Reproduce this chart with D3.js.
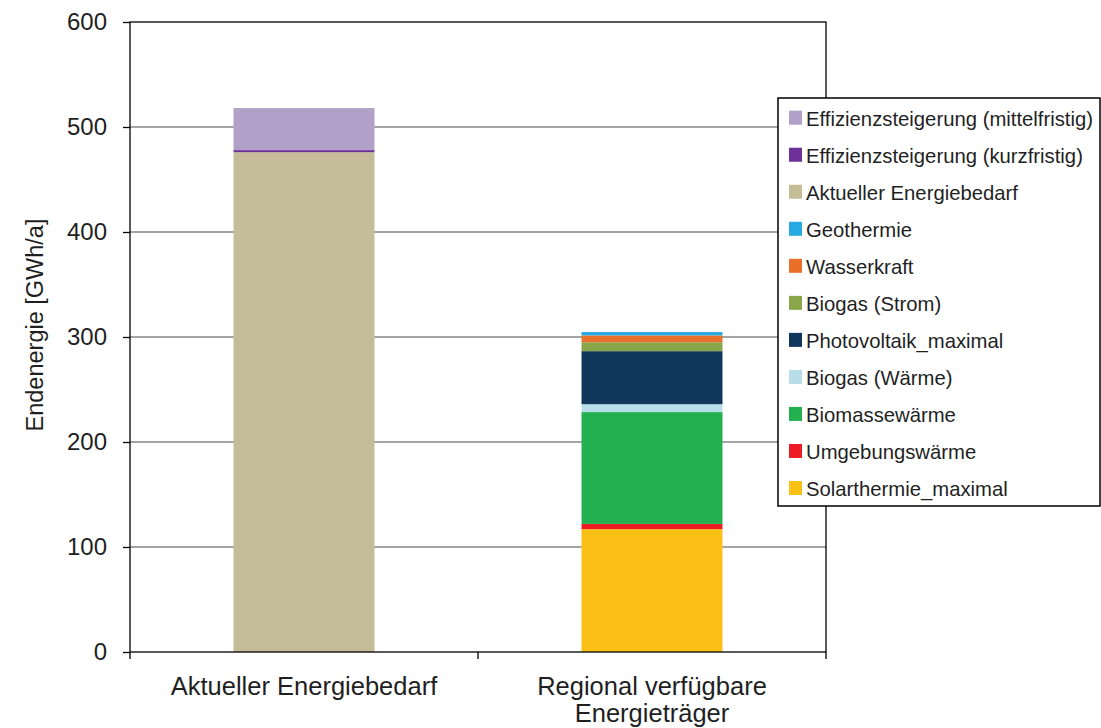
<!DOCTYPE html>
<html><head><meta charset="utf-8">
<script src="https://cdn.jsdelivr.net/npm/d3@7"></script>
<style>body{margin:0;background:#fff;}svg{font-family:"Liberation Sans",Arial,sans-serif;}</style>
</head><body><svg id="c" width="1101" height="728"></svg>
<script>
const categories = ["Aktueller Energiebedarf", "Regional verfügbare Energieträger"];
const categoryLines = [["Aktueller Energiebedarf"], ["Regional verfügbare", "Energieträger"]];
// series in stacking order (bottom to top)
const seriesNames = ["Solarthermie_maximal","Umgebungswärme","Biomassewärme","Biogas (Wärme)","Photovoltaik_maximal","Biogas (Strom)","Wasserkraft","Geothermie","Aktueller Energiebedarf","Effizienzsteigerung (kurzfristig)","Effizienzsteigerung (mittelfristig)"];
const seriesColors = ["#fbc016","#ed1c24","#23b04f","#b7dde8","#10365c","#8aa64b","#e8702a","#27aae1","#c4bd97","#6f3198","#b1a0c7"];
// values per series: [Aktueller Energiebedarf, Regional verfügbare Energieträger]
const solarthermie = [0, 117];
const umgebung = [0, 5];
const biomasse = [0, 106.5];
const biogasWaerme = [0, 7.5];
const photovoltaik = [0, 50.5];
const biogasStrom = [0, 8.5];
const wasserkraft = [0, 6.5];
const geothermie = [0, 3.2];
const aktuell = [476, 0];
const effKurz = [2, 0];
const effMittel = [40, 0];
const yTicks = [0, 100, 200, 300, 400, 500, 600];

const seriesValues = [solarthermie, umgebung, biomasse, biogasWaerme, photovoltaik, biogasStrom, wasserkraft, geothermie, aktuell, effKurz, effMittel];

const svg = d3.select("#c");
const TXT = "#1f1f1f";
const L = 130, R = 826, T = 22, B = 652;
const x = d3.scaleBand().domain(categories).range([L, R]).paddingInner(0.595).paddingOuter(0.2975);
const y = d3.scaleLinear().domain([0, 600]).range([B, T]);

// gridlines
svg.append("g").selectAll("line").data(yTicks.filter(d => d > 0 && d < 600)).join("line")
  .attr("x1", L).attr("x2", R).attr("y1", d => y(d)).attr("y2", d => y(d))
  .attr("stroke", "#868686").attr("stroke-width", 1.3);

// stacked data
const rows = categories.map((c, i) => {
  const o = {cat: c};
  seriesNames.forEach((s, j) => o[s] = seriesValues[j][i]);
  return o;
});
const stack = d3.stack().keys(seriesNames)(rows);
svg.append("g").selectAll("g").data(stack).join("g")
  .attr("fill", (d, i) => seriesColors[i])
  .selectAll("rect").data(d => d).join("rect")
  .attr("x", d => x(d.data.cat)).attr("width", x.bandwidth())
  .attr("y", d => y(d[1])).attr("height", d => Math.max(0, y(d[0]) - y(d[1])));

// frame
svg.append("rect").attr("x", L).attr("y", T).attr("width", R - L).attr("height", B - T)
  .attr("fill", "none").attr("stroke", "#000").attr("stroke-width", 1.3);

// y axis
const yAxis = svg.append("g").attr("transform", `translate(${L},0)`)
  .call(d3.axisLeft(y).tickValues(yTicks).tickSize(7).tickPadding(16).tickFormat(d3.format("d")));
yAxis.select(".domain").remove();
yAxis.selectAll("line").attr("stroke", "#000").attr("stroke-width", 1.3);
yAxis.selectAll("text").attr("font-size", 24).attr("fill", TXT).attr("font-family", "Liberation Sans, Arial, sans-serif");

// x axis ticks at category boundaries
const bounds = [L, (L + R) / 2, R];
svg.append("g").selectAll("line").data(bounds).join("line")
  .attr("x1", d => d).attr("x2", d => d).attr("y1", B).attr("y2", B + 7)
  .attr("stroke", "#000").attr("stroke-width", 1.3);

// category labels
const catG = svg.append("g");
categories.forEach((c, i) => {
  const cx = x(c) + x.bandwidth() / 2;
  const t = catG.append("text").attr("x", cx).attr("y", 695)
    .attr("text-anchor", "middle").attr("font-size", 25.5).attr("fill", TXT);
  categoryLines[i].forEach((ln, k) => t.append("tspan").attr("x", cx).attr("dy", k === 0 ? 0 : 27).text(ln));
});

// y title
svg.append("text").attr("transform", "translate(43,325) rotate(-90)").attr("text-anchor", "middle")
  .attr("font-size", 23.5).attr("fill", TXT).text("Endenergie [GWh/a]");

// legend
const lg = svg.append("g");
lg.append("rect").attr("x", 778).attr("y", 98).attr("width", 322).attr("height", 408)
  .attr("fill", "#fff").attr("stroke", "#000").attr("stroke-width", 1.5);
const legendOrder = seriesNames.map((s, i) => i).reverse();
legendOrder.forEach((idx, k) => {
  const base = 125.7 + k * 37.03;
  lg.append("rect").attr("x", 789).attr("y", base - 15).attr("width", 13).attr("height", 14).attr("fill", seriesColors[idx]);
  lg.append("text").attr("x", 806).attr("y", base).attr("font-size", 20.3).attr("fill", TXT).text(seriesNames[idx]);
});
</script></body></html>
